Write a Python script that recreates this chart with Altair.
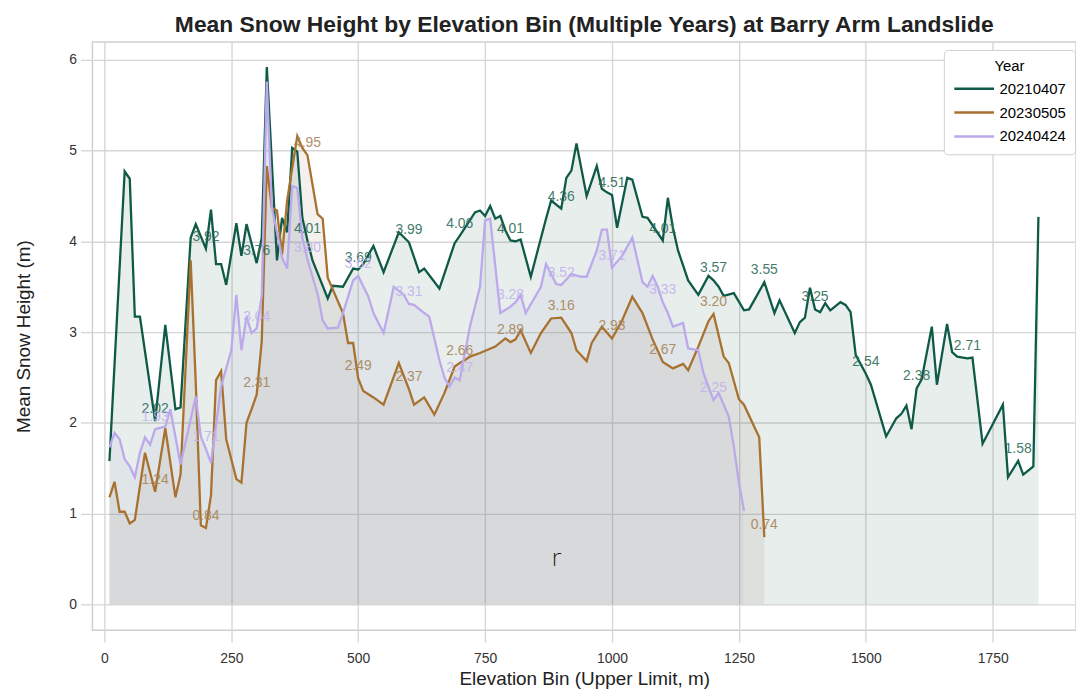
import altair as alt
import pandas as pd

YEARS = ["20210407", "20230505", "20240424"]
COLORS = ["#0f5a46", "#a8712f", "#bba9ec"]
FILL_COLORS = ["#0f5a46", "#85705a", "#a49bcc"]
LABEL_COLORS = ["#2f6e5c", "#a8865a", "#c3b4ec"]

# 20210407
g_x = [10, 40, 50, 60, 70, 100, 120, 140, 150, 170, 180, 200, 210, 220, 230, 240, 260, 270, 280, 300,
       310, 320, 340, 350, 360, 370, 380, 390, 400, 410, 440, 450, 470, 490, 500, 510, 530, 550, 580, 600,
       620, 630, 660, 690, 700, 730, 740, 750, 760, 770, 780, 790, 800, 810, 820, 840, 870, 880, 900, 910,
       920, 930, 950, 970, 980, 990, 1000, 1010, 1030, 1040, 1060, 1070, 1100, 1110, 1120, 1130, 1150, 1170, 1190, 1200,
       1210, 1220, 1240, 1260, 1270, 1280, 1300, 1320, 1330, 1360, 1370, 1380, 1390, 1400, 1410, 1420, 1430, 1450, 1460, 1470,
       1480, 1500, 1510, 1540, 1560, 1570, 1580, 1590, 1600, 1610, 1630, 1640, 1660, 1670, 1680, 1700, 1710, 1730, 1770, 1780,
       1800, 1810, 1830, 1840]
g_y = [1.58, 4.77, 4.69, 3.17, 3.17, 2.02, 3.08, 2.15, 2.17, 4.04, 4.19, 3.92, 4.35, 3.75, 3.75, 3.52, 4.20, 3.84, 4.19, 3.76,
       4.04, 5.92, 3.79, 4.26, 4.10, 5.03, 4.99, 4.26, 4.01, 3.79, 3.37, 3.51, 3.50, 3.70, 3.69, 3.75, 3.95, 3.66, 4.10, 3.99,
       3.66, 3.70, 3.48, 3.98, 4.06, 4.32, 4.34, 4.28, 4.39, 4.25, 4.28, 4.12, 4.01, 4.00, 4.02, 3.61, 4.25, 4.45, 4.36, 4.70,
       4.78, 5.08, 4.50, 4.83, 4.58, 4.54, 4.51, 4.15, 4.70, 4.68, 4.27, 4.26, 4.01, 4.48, 4.15, 3.90, 3.57, 3.41, 3.62, 3.57,
       3.50, 3.40, 3.43, 3.24, 3.25, 3.35, 3.55, 3.21, 3.35, 2.99, 3.11, 3.16, 3.49, 3.25, 3.22, 3.32, 3.24, 3.33, 3.30, 3.22,
       2.75, 2.54, 2.42, 1.85, 2.05, 2.10, 2.19, 1.93, 2.38, 2.48, 3.06, 2.42, 3.09, 2.78, 2.73, 2.71, 2.72, 1.77, 2.20, 1.40,
       1.58, 1.43, 1.52, 4.27]

# 20230505
b_x = [10, 20, 30, 40, 50, 60, 80, 100, 120, 140, 150, 170, 180, 190, 200, 210, 220, 230, 240, 260,
       270, 280, 290, 300, 310, 320, 330, 340, 350, 360, 380, 390, 400, 420, 430, 440, 470, 480, 490, 500,
       510, 530, 550, 580, 600, 610, 630, 650, 670, 690, 700, 710, 720, 740, 770, 790, 800, 810, 820, 840,
       860, 880, 900, 920, 930, 950, 960, 980, 1000, 1020, 1040, 1060, 1080, 1100, 1120, 1140, 1150, 1170, 1190, 1200,
       1220, 1230, 1250, 1260, 1280, 1290, 1300]
b_y = [1.18, 1.35, 1.02, 1.02, 0.89, 0.93, 1.67, 1.24, 1.94, 1.18, 1.43, 3.79, 2.44, 0.87, 0.84, 1.20, 2.47, 2.57, 1.82, 1.38,
       1.34, 2.00, 2.15, 2.31, 2.90, 4.83, 4.37, 4.34, 3.85, 4.45, 5.16, 5.03, 4.95, 4.30, 4.25, 3.60, 3.21, 2.88, 2.88, 2.49,
       2.35, 2.28, 2.20, 2.66, 2.37, 2.20, 2.28, 2.09, 2.33, 2.62, 2.66, 2.69, 2.73, 2.77, 2.84, 2.93, 2.89, 2.92, 3.02, 2.77,
       2.99, 3.15, 3.16, 2.99, 2.80, 2.68, 2.88, 3.06, 2.93, 3.13, 3.39, 3.21, 2.92, 2.67, 2.60, 2.65, 2.58, 2.84, 3.12, 3.20,
       2.73, 2.66, 2.26, 2.20, 1.96, 1.84, 0.74]

# 20240424
p_x = [10, 20, 30, 40, 50, 60, 70, 80, 90, 100, 120, 130, 150, 180, 190, 200, 210, 230, 250, 260,
       270, 280, 290, 300, 310, 320, 330, 340, 350, 360, 370, 380, 390, 400, 420, 430, 440, 460, 470, 490,
       500, 520, 530, 550, 560, 570, 590, 600, 610, 630, 640, 660, 670, 680, 690, 700, 720, 740, 750, 760,
       780, 800, 810, 820, 830, 860, 870, 890, 900, 920, 940, 950, 970, 980, 990, 1000, 1020, 1040, 1060, 1070,
       1080, 1090, 1100, 1110, 1120, 1140, 1150, 1170, 1180, 1200, 1210, 1230, 1240, 1250, 1260]
p_y = [1.73, 1.89, 1.82, 1.60, 1.52, 1.40, 1.67, 1.84, 1.76, 1.93, 1.96, 2.15, 1.54, 2.29, 1.85, 1.71, 1.56, 2.40, 2.80, 3.41,
       2.80, 3.17, 2.99, 3.04, 3.40, 5.76, 4.37, 4.10, 3.82, 3.70, 4.61, 4.59, 4.04, 3.80, 3.42, 3.13, 3.04, 3.05, 3.21, 3.57,
       3.62, 3.39, 3.21, 2.99, 3.24, 3.50, 3.41, 3.31, 3.30, 3.21, 3.17, 2.69, 2.50, 2.40, 2.50, 2.47, 3.06, 3.50, 4.23, 4.25,
       3.21, 3.28, 3.33, 3.41, 3.21, 3.50, 3.75, 3.53, 3.52, 3.64, 3.61, 3.61, 3.90, 4.13, 4.13, 3.71, 3.84, 4.04, 3.55, 3.50,
       3.62, 3.50, 3.33, 3.21, 3.06, 3.10, 2.82, 2.80, 2.55, 2.25, 2.33, 2.07, 1.74, 1.34, 1.03]

STRAY_TEXT = ["r"]
STRAY_X = [890]
STRAY_Y = [0.5]

X_TICKS = [0, 250, 500, 750, 1000, 1250, 1500, 1750]
Y_TICKS = [0, 1, 2, 3, 4, 5, 6]

rows = []
for yr, xs_, ys_ in zip(YEARS, [g_x, b_x, p_x], [g_y, b_y, p_y]):
    for xv, yv in zip(xs_, ys_):
        rows.append({"Year": yr, "elev": xv, "h": yv, "base": 0.0, "lab": xv % 100 == 0})
df = pd.DataFrame(rows)
lab_df = df[df["lab"]]
stray = pd.DataFrame({"t": STRAY_TEXT, "x": STRAY_X, "y": STRAY_Y})

FONT = "Liberation Sans"
xs = alt.Scale(domain=[-23.5, 1914], nice=False, zero=False)
ys = alt.Scale(domain=[-0.285, 6.197], nice=False, zero=False)
cs = alt.Scale(domain=YEARS, range=COLORS)
lcs = alt.Scale(domain=YEARS, range=LABEL_COLORS)

X = alt.X("elev:Q", scale=xs, title="Elevation Bin (Upper Limit, m)",
          axis=alt.Axis(values=X_TICKS, format="d"))
Y = alt.Y("h:Q", scale=ys, title="Mean Snow Height (m)",
          axis=alt.Axis(values=Y_TICKS, format="d"))

areas = []
for yr, col in zip(YEARS, FILL_COLORS):
    areas.append(
        alt.Chart(df[df["Year"] == yr]).mark_area(color=col, fillOpacity=0.1, interpolate="linear").encode(
            x=X, y=Y, y2=alt.Y2("base:Q"),
        )
    )

line = alt.Chart(df).mark_line(strokeWidth=2.3).encode(
    x=X, y=Y,
    color=alt.Color("Year:N", scale=cs, sort=YEARS,
                    legend=alt.Legend(title="Year", orient="none", legendX=857, legendY=8,
                                      symbolType="stroke", symbolStrokeWidth=2.5, symbolSize=1600,
                                      clipHeight=18, rowPadding=6,
                                      labelFontSize=15, titleFontSize=15, titleFontWeight="normal",
                                      titleAnchor="middle", padding=9, cornerRadius=4,
                                      strokeColor="#d0d0d0", fillColor="white",
                                      labelFont=FONT, titleFont=FONT, titlePadding=6)),
)

labels = alt.Chart(lab_df).mark_text(dy=-12, fontSize=14, font=FONT, opacity=0.9).encode(
    x=X, y=Y,
    text=alt.Text("h:Q", format=".2f"),
    color=alt.Color("Year:N", scale=lcs, legend=None),
)

stray_mark = alt.Chart(stray).mark_text(fontSize=24, font="DejaVu Sans", fontWeight=200,
                                        color="#111111").encode(
    x=alt.X("x:Q", scale=xs), y=alt.Y("y:Q", scale=ys), text="t:N")

chart = alt.layer(*areas, line, labels, stray_mark).resolve_scale(color="independent").properties(
    width=990, height=592,
    title=alt.TitleParams("Mean Snow Height by Elevation Bin (Multiple Years) at Barry Arm Landslide",
                          fontSize=23, fontWeight="bold", font=FONT, color="#222222", offset=5),
    padding={"left": 6, "top": 4, "right": 0, "bottom": 0},
).configure_view(stroke="#cfcfcf", strokeWidth=1.5).configure_axis(
    grid=True, gridColor="#d6d6d6", gridWidth=1.4, domain=False,
    ticks=True, tickSize=12, tickColor="#d6d6d6", tickWidth=1.4,
    labelFont=FONT, titleFont=FONT, labelFontSize=14, titleFontSize=19,
    titleFontWeight="normal", labelColor="#333333", titleColor="#222222",
).configure_axisY(titlePadding=36, labelPadding=4).configure_axisX(titlePadding=4, labelPadding=10)

chart.save("out.html", embed_options={"renderer": "svg", "actions": False})
